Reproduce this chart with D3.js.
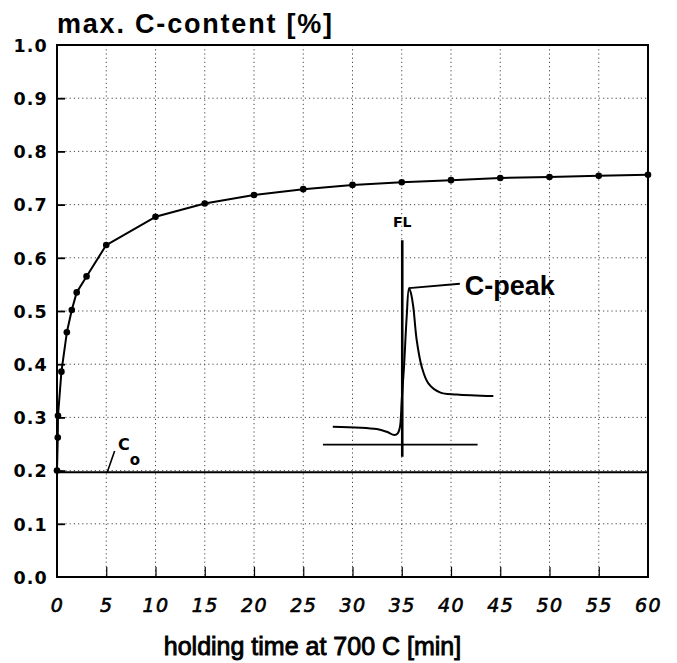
<!DOCTYPE html>
<html>
<head>
<meta charset="utf-8">
<script src="https://cdn.jsdelivr.net/npm/d3@7"></script>
<style>
  html, body { margin: 0; padding: 0; background: #fff; }
  svg { display: block; }
</style>
</head>
<body>
<svg id="chart" width="677" height="663"></svg>
<script>
// Maximum carbon content versus holding time at 700 C
const holdTime   = [0, 0.08, 0.1, 0.45, 1, 1.5, 2, 3, 5, 10, 15, 20, 25, 30, 35, 40, 45, 50, 55, 60];
const maxCarbon  = [0.200, 0.262, 0.303, 0.386, 0.460, 0.502, 0.535, 0.565, 0.624, 0.677, 0.702, 0.718, 0.729, 0.737, 0.742, 0.746, 0.750, 0.752, 0.754, 0.756];

// Initial carbon content
const baseCarbon = 0.197;

// Axis ticks
const xTicks = [0, 5, 10, 15, 20, 25, 30, 35, 40, 45, 50, 55, 60];
const yTicks = [0.0, 0.1, 0.2, 0.3, 0.4, 0.5, 0.6, 0.7, 0.8, 0.9, 1.0];

// Inset sketch: carbon profile across the fusion line (FL), in chart units
const profileT = [28.0, 32.46, 33.47, 34.25, 34.59, 34.82, 35.0, 35.23, 35.5, 35.74, 35.94, 36.17, 36.52, 37.03, 37.7, 38.88, 40.58, 44.3];
const profileC = [0.2825, 0.278, 0.273, 0.267, 0.270, 0.2825, 0.333, 0.395, 0.489, 0.543, 0.533, 0.508, 0.445, 0.395, 0.364, 0.347, 0.343, 0.340];
const profileBaseT = [27.0, 42.7];
const profileBaseC = 0.249;
const fusionLineT = 35.05;
const fusionLineC = [0.226, 0.633];
const peakLeaderT = [35.74, 40.9];
const peakLeaderC = [0.543, 0.551];

const svg = d3.select("#chart");
const plotLeft = 57, plotRight = 648, plotTop = 45, plotBottom = 577;

const x = d3.scaleLinear().domain([0, 60]).range([plotLeft, plotRight]);
const y = d3.scaleLinear().domain([0, 1]).range([plotBottom, plotTop]);

// Dotted grid
const grid = svg.append("g")
  .attr("stroke", "#333")
  .attr("stroke-width", 0.9)
  .attr("stroke-dasharray", "1.2,3");
grid.selectAll("line.h")
  .data(yTicks.filter(v => v > 0 && v < 1))
  .join("line")
  .attr("class", "h")
  .attr("x1", plotLeft).attr("x2", plotRight)
  .attr("y1", d => y(d)).attr("y2", d => y(d));
grid.selectAll("line.v")
  .data(xTicks.filter(v => v > 0 && v < 60))
  .join("line")
  .attr("class", "v")
  .attr("y1", plotTop).attr("y2", plotBottom)
  .attr("x1", d => x(d)).attr("x2", d => x(d));

// Axes with inward ticks
const xAxis = svg.append("g")
  .attr("transform", `translate(0,${plotBottom})`)
  .call(d3.axisBottom(x).tickValues(xTicks).tickSize(-10).tickPadding(0).tickFormat(d3.format("d")));
xAxis.select(".domain").remove();
xAxis.selectAll(".tick line").attr("stroke", "#000").attr("stroke-width", 1.2)
  .filter(d => d === 0 || d === 60).remove();
xAxis.selectAll(".tick text")
  .attr("y", 35)
  .attr("dy", 0)
  .attr("font-family", "'DejaVu Sans', sans-serif")
  .attr("font-style", "oblique")
  .attr("font-size", 19)
  .attr("letter-spacing", 1.5)
  .attr("fill", "#000")
  .attr("stroke", "#000")
  .attr("stroke-width", 0.6);

const yAxis = svg.append("g")
  .attr("transform", `translate(${plotLeft},0)`)
  .call(d3.axisLeft(y).tickValues(yTicks).tickSize(-8).tickPadding(0).tickFormat(d3.format(".1f")));
yAxis.select(".domain").remove();
yAxis.selectAll(".tick line").attr("stroke", "#000").attr("stroke-width", 1.8)
  .filter(d => d === 0 || d === 1).remove();
yAxis.selectAll(".tick text")
  .attr("x", -9)
  .attr("dy", "0.36em")
  .attr("font-family", "'DejaVu Sans', sans-serif")
  .attr("font-weight", "bold")
  .attr("font-size", 17.5)
  .attr("letter-spacing", 1.2)
  .attr("fill", "#000");

// Frame
svg.append("rect")
  .attr("x", plotLeft).attr("y", plotTop)
  .attr("width", plotRight - plotLeft).attr("height", plotBottom - plotTop)
  .attr("fill", "none").attr("stroke", "#000").attr("stroke-width", 2);

// Initial content line C0
svg.append("line")
  .attr("x1", x(0)).attr("x2", x(60))
  .attr("y1", y(baseCarbon)).attr("y2", y(baseCarbon))
  .attr("stroke", "#000").attr("stroke-width", 2);
svg.append("line")
  .attr("x1", x(5.1)).attr("y1", y(baseCarbon))
  .attr("x2", x(5.85)).attr("y2", y(0.237))
  .attr("stroke", "#000").attr("stroke-width", 1.6);
const c0 = svg.append("text")
  .attr("x", x(6.2)).attr("y", y(0.239))
  .attr("font-family", "'DejaVu Sans', sans-serif")
  .attr("font-weight", "bold")
  .attr("font-size", 16)
  .attr("fill", "#000");
c0.append("tspan").text("C");
c0.append("tspan").attr("dx", 0).attr("dy", 15).attr("font-size", 15).text("o");

// Main series
const pts = holdTime.map((t, i) => [t, maxCarbon[i]]);
svg.append("path")
  .datum(pts)
  .attr("fill", "none")
  .attr("stroke", "#000")
  .attr("stroke-width", 2)
  .attr("stroke-linejoin", "round")
  .attr("d", d3.line().x(d => x(d[0])).y(d => y(d[1])));
svg.append("g").selectAll("circle")
  .data(pts)
  .join("circle")
  .attr("cx", d => x(d[0]))
  .attr("cy", d => y(d[1]))
  .attr("r", 3.3)
  .attr("fill", "#000");

// Inset sketch
const inset = svg.append("g").attr("stroke", "#000").attr("fill", "none");
inset.append("line")
  .attr("x1", x(profileBaseT[0])).attr("x2", x(profileBaseT[1]))
  .attr("y1", y(profileBaseC)).attr("y2", y(profileBaseC))
  .attr("stroke-width", 1.8);
inset.append("line")
  .attr("x1", x(fusionLineT)).attr("x2", x(fusionLineT))
  .attr("y1", y(fusionLineC[0])).attr("y2", y(fusionLineC[1]))
  .attr("stroke-width", 2.6);
inset.append("path")
  .datum(profileT.map((t, i) => [t, profileC[i]]))
  .attr("stroke-width", 2)
  .attr("d", d3.line().curve(d3.curveCatmullRom.alpha(0.5)).x(d => x(d[0])).y(d => y(d[1])));
inset.append("line")
  .attr("x1", x(peakLeaderT[0])).attr("x2", x(peakLeaderT[1]))
  .attr("y1", y(peakLeaderC[0])).attr("y2", y(peakLeaderC[1]))
  .attr("stroke-width", 2);

svg.append("text")
  .attr("x", x(fusionLineT)).attr("y", y(0.657))
  .attr("text-anchor", "middle")
  .attr("font-family", "'DejaVu Sans', sans-serif")
  .attr("font-weight", "bold")
  .attr("font-size", 14)
  .attr("fill", "#000")
  .text("FL");

svg.append("text")
  .attr("x", x(41.4)).attr("y", y(0.530))
  .attr("font-family", "'Liberation Sans', Arial, sans-serif")
  .attr("font-weight", "bold")
  .attr("font-size", 27)
  .attr("fill", "#000")
  .text("C-peak");

// Titles
svg.append("text")
  .attr("x", 57).attr("y", 33)
  .attr("font-family", "'Liberation Sans', Arial, sans-serif")
  .attr("font-weight", "bold")
  .attr("font-size", 27)
  .attr("letter-spacing", 1.8)
  .attr("fill", "#000")
  .text("max. C-content [%]");

svg.append("text")
  .attr("x", (plotLeft + plotRight) / 2 - 40).attr("y", 655)
  .attr("text-anchor", "middle")
  .attr("font-family", "'Liberation Sans', Arial, sans-serif")
  .attr("font-size", 25)
  .attr("fill", "#000")
  .attr("stroke", "#000")
  .attr("stroke-width", 0.9)
  .text("holding time at 700 C [min]");
</script>
</body>
</html>
